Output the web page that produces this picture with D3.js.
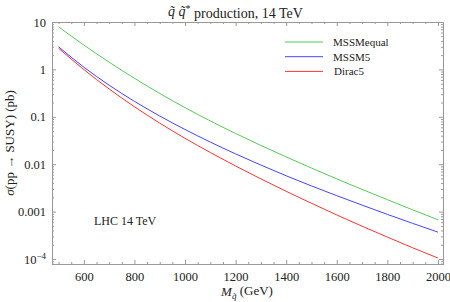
<!DOCTYPE html>
<html>
<head>
  <script src="https://d3js.org/d3.v7.min.js"></script>
  <style>
    body { margin: 0; background: #fff; }
    text { font-family: "Liberation Serif", "DejaVu Serif", serif; fill: #222; }
  </style>
</head>
<body>
  <div id="chart"></div>
  <script>
    // squark mass (GeV)
    const masses = [500, 600, 700, 800, 900, 1000, 1100, 1200, 1300, 1400, 1500, 1600, 1700, 1800, 1900, 2000];
    // cross sections (pb)
    const mssmEqual = [7.9, 3.26, 1.42, 0.65, 0.311, 0.156, 0.0818, 0.0445, 0.0249, 0.01426, 0.0083, 0.0049, 0.00294, 0.00179, 0.00109, 0.000675];
    const mssm5 = [3.0, 1.114, 0.464, 0.212, 0.104, 0.054, 0.0293, 0.0165, 0.0096, 0.0057, 0.00348, 0.00217, 0.00137, 0.000875, 0.000565, 0.000369];
    const dirac5 = [2.8, 0.993, 0.386, 0.163, 0.0736, 0.0352, 0.01766, 0.00916, 0.0049, 0.00268, 0.0015, 0.00085, 0.000493, 0.00029, 0.000173, 0.000105];
    const seriesNames = ["MSSMequal", "MSSM5", "Dirac5"];
    const seriesColors = ["#55cc55", "#4444ff", "#ff3333"];
    const xTicks = [600, 800, 1000, 1200, 1400, 1600, 1800, 2000];
    const yTicks = [10, 1, 0.1, 0.01, 0.001, 0.0001];
    const yTickLabels = ["10", "1", "0.1", "0.01", "0.001", "10^-4"];

    const W = 450, H = 302;
    const mLeft = 52, mRight = 443, mTop = 22, mBottom = 264;

    const svg = d3.select("#chart").append("svg")
      .attr("width", W).attr("height", H);

    const x = d3.scaleLinear().domain([474, 2020]).range([mLeft, mRight]);
    const y = d3.scaleLog().domain([Math.pow(10, -4.105), 10]).range([mBottom, mTop]);

    const frameColor = "#999";

    // minor ticks
    const xMinor = d3.range(500, 2001, 50).filter(v => xTicks.indexOf(v) < 0);
    const yMinor = [];
    for (let e = -5; e <= 0; e++) {
      for (let k = 2; k <= 9; k++) {
        const v = k * Math.pow(10, e);
        if (v >= y.domain()[0] && v <= 10) yMinor.push(v);
      }
    }

    const g = svg.append("g");

    // bottom axis
    g.append("g").attr("transform", `translate(0,${mBottom})`)
      .call(d3.axisBottom(x).tickValues(xTicks).tickSizeInner(-4).tickSizeOuter(0).tickPadding(8).tickFormat(d3.format("d")));
    g.append("g").attr("transform", `translate(0,${mBottom})`)
      .call(d3.axisBottom(x).tickValues(xMinor).tickSizeInner(-2).tickSizeOuter(0).tickFormat(""));
    // top axis
    g.append("g").attr("transform", `translate(0,${mTop})`)
      .call(d3.axisTop(x).tickValues(xTicks).tickSizeInner(-4).tickSizeOuter(0).tickFormat(""));
    g.append("g").attr("transform", `translate(0,${mTop})`)
      .call(d3.axisTop(x).tickValues(xMinor).tickSizeInner(-2).tickSizeOuter(0).tickFormat(""));
    // left axis
    const yl = g.append("g").attr("transform", `translate(${mLeft},0)`)
      .call(d3.axisLeft(y).tickValues(yTicks).tickSizeInner(-4).tickSizeOuter(0).tickFormat(""));
    g.append("g").attr("transform", `translate(${mLeft},0)`)
      .call(d3.axisLeft(y).tickValues(yMinor).tickSizeInner(-2).tickSizeOuter(0).tickFormat(""));
    // right axis
    g.append("g").attr("transform", `translate(${mRight},0)`)
      .call(d3.axisRight(y).tickValues(yTicks).tickSizeInner(-4).tickSizeOuter(0).tickFormat(""));
    g.append("g").attr("transform", `translate(${mRight},0)`)
      .call(d3.axisRight(y).tickValues(yMinor).tickSizeInner(-2).tickSizeOuter(0).tickFormat(""));

    g.selectAll(".domain").attr("stroke", frameColor);
    g.selectAll(".tick line").attr("stroke", frameColor);
    g.selectAll(".tick text").attr("fill", "#222")
      .style("font-family", "Liberation Serif").style("font-size", "12.5px");

    // y tick labels (with superscript for 10^-4)
    yl.selectAll(".tick").each(function(d, i) {
      const t = d3.select(this).append("text")
        .attr("x", -6).attr("dy", "0.32em").attr("text-anchor", "end")
        .style("font-size", "12.5px");
      const lab = yTickLabels[i];
      if (lab.indexOf("^") >= 0) {
        const parts = lab.split("^");
        t.append("tspan").text(parts[0]);
        t.append("tspan").attr("dy", "-0.45em").style("font-size", "9px").text(parts[1].replace("-", "\u2212"));
      } else {
        t.text(lab);
      }
    });

    // curves
    const allSeries = [mssmEqual, mssm5, dirac5];
    const line = d3.line()
      .x((d, i) => x(masses[i]))
      .y(d => y(d))
      .curve(d3.curveMonotoneX);
    allSeries.forEach((s, k) => {
      svg.append("path").datum(s)
        .attr("d", line)
        .attr("fill", "none")
        .attr("stroke", seriesColors[k])
        .attr("stroke-width", 1);
    });

    // legend
    const legend = svg.append("g");
    seriesNames.forEach((name, k) => {
      const ly = 42 + k * 14.7;
      legend.append("line")
        .attr("x1", 285).attr("x2", 323).attr("y1", ly).attr("y2", ly)
        .attr("stroke", seriesColors[k]).attr("stroke-width", 1);
      legend.append("text")
        .attr("x", 333 + (k === 2 ? 1 : 0)).attr("y", ly).attr("dy", "0.35em")
        .style("font-size", "11px").text(name);
    });

    // annotation
    svg.append("text").attr("x", 94).attr("y", 221).attr("dy", "0.35em")
      .style("font-size", "12px").text("LHC 14 TeV");

    // title
    const title = svg.append("text").attr("x", 168).attr("y", 16)
      .style("font-size", "14px");
    title.append("tspan").style("font-style", "italic").text("q\u0303");
    title.append("tspan").text(" ");
    title.append("tspan").style("font-style", "italic").text("q\u0303");
    title.append("tspan").attr("dy", "-0.45em").style("font-size", "10px").text("*");
    title.append("tspan").attr("dy", "0.45em").text(" production, 14 TeV");

    // x label
    const xl = svg.append("text").attr("x", 247).attr("y", 296)
      .attr("text-anchor", "middle").style("font-size", "13px");
    xl.append("tspan").style("font-style", "italic").text("M");
    xl.append("tspan").attr("dy", "0.3em").style("font-size", "9px").style("font-style", "italic").text("q\u0303");
    xl.append("tspan").attr("dy", "-0.3em").text(" (GeV)");

    // y label
    const ylab = svg.append("text")
      .attr("transform", `translate(14,${(mTop + mBottom) / 2}) rotate(-90)`)
      .attr("text-anchor", "middle").style("font-size", "13px");
    ylab.append("tspan").style("font-style", "italic").text("\u03c3");
    ylab.append("tspan").text("(pp \u2192 SUSY) (pb)");
  </script>
</body>
</html>
